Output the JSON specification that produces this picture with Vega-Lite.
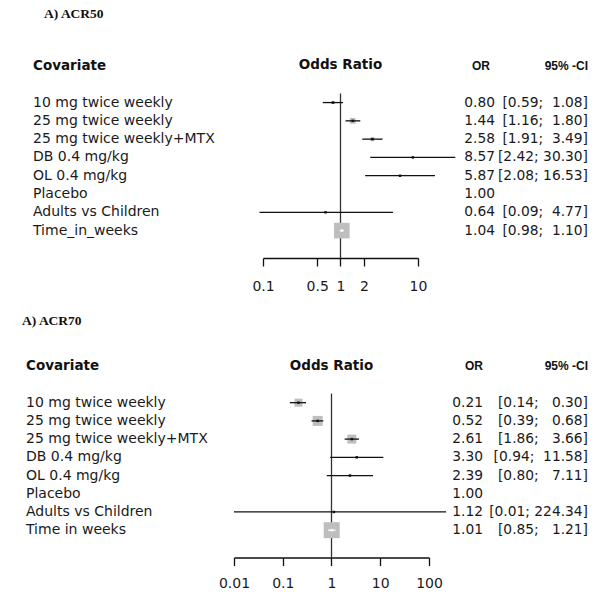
{
  "$schema": "https://vega.github.io/schema/vega-lite/v6.json",
  "background": "white",
  "padding": {"left": 22, "top": 2, "right": 5, "bottom": 2},
  "config": {
    "view": {"stroke": null},
    "axis": {"grid": false, "title": null, "domainColor": "#111", "tickColor": "#111", "domainWidth": 1.3, "tickWidth": 1.3, "labelFont": "DejaVu Sans", "labelFontSize": 14, "labelColor": "#1a1a1a", "labelFlush": false, "labelOverlap": false}
  },
  "datasets": {
    "acr50": [
      {"label": "10 mg twice weekly", "or": 0.80, "lo": 0.59, "hi": 1.08, "w": 3.5, "orText": "0.80", "ciText": "[0.59;\u00a0\u00a01.08]"},
      {"label": "25 mg twice weekly", "or": 1.44, "lo": 1.16, "hi": 1.80, "w": 12.7, "orText": "1.44", "ciText": "[1.16;\u00a0\u00a01.80]"},
      {"label": "25 mg twice weekly+MTX", "or": 2.58, "lo": 1.91, "hi": 3.49, "w": 6.3, "orText": "2.58", "ciText": "[1.91;\u00a0\u00a03.49]"},
      {"label": "DB 0.4 mg/kg", "or": 8.57, "lo": 2.42, "hi": 30.30, "w": 0.9, "orText": "8.57", "ciText": "[2.42;\u00a030.30]"},
      {"label": "OL 0.4 mg/kg", "or": 5.87, "lo": 2.08, "hi": 16.53, "w": 0.9, "orText": "5.87", "ciText": "[2.08;\u00a016.53]"},
      {"label": "Placebo", "or": 1.00, "lo": null, "hi": null, "w": null, "orText": "1.00", "ciText": ""},
      {"label": "Adults vs Children", "or": 0.64, "lo": 0.09, "hi": 4.77, "w": 0.9, "orText": "0.64", "ciText": "[0.09;\u00a0\u00a04.77]"},
      {"label": "Time_in_weeks", "or": 1.04, "lo": 0.98, "hi": 1.10, "w": 95, "orText": "1.04", "ciText": "[0.98;\u00a0\u00a01.10]"}
    ],
    "acr70": [
      {"label": "10 mg twice weekly", "or": 0.21, "lo": 0.14, "hi": 0.30, "w": 25, "orText": "0.21", "ciText": "[0.14;\u00a0\u00a0\u00a00.30]"},
      {"label": "25 mg twice weekly", "or": 0.52, "lo": 0.39, "hi": 0.68, "w": 39, "orText": "0.52", "ciText": "[0.39;\u00a0\u00a0\u00a00.68]"},
      {"label": "25 mg twice weekly+MTX", "or": 2.61, "lo": 1.86, "hi": 3.66, "w": 31.6, "orText": "2.61", "ciText": "[1.86;\u00a0\u00a0\u00a03.66]"},
      {"label": "DB 0.4 mg/kg", "or": 3.30, "lo": 0.94, "hi": 11.58, "w": 1.6, "orText": "3.30", "ciText": "[0.94;\u00a0\u00a011.58]"},
      {"label": "OL 0.4 mg/kg", "or": 2.39, "lo": 0.80, "hi": 7.11, "w": 1.6, "orText": "2.39", "ciText": "[0.80;\u00a0\u00a0\u00a07.11]"},
      {"label": "Placebo", "or": 1.00, "lo": null, "hi": null, "w": null, "orText": "1.00", "ciText": ""},
      {"label": "Adults vs Children", "or": 1.12, "lo": 0.01, "hi": 224.34, "w": 0.9, "orText": "1.12", "ciText": "[0.01;\u00a0224.34]"},
      {"label": "Time in weeks", "or": 1.01, "lo": 0.85, "hi": 1.21, "w": 100, "orText": "1.01", "ciText": "[0.85;\u00a0\u00a0\u00a01.21]"}
    ]
  },
  "vconcat": [
    {
      "bounds": "flush",
      "spacing": 0,
      "hconcat": [
        {
          "width": 241, "height": 256,
          "data": {"name": "acr50"},
          "layer": [
            {
              "data": {"values": [{"t": "A) ACR50"}]},
              "mark": {"type": "text", "align": "left", "baseline": "middle", "font": "Liberation Serif", "fontWeight": "bold", "fontSize": 13.5, "color": "#111", "dx": 22, "dy": 3},
              "encoding": {
                "x": {"value": 0},
                "y": {"datum": "ttl", "type": "nominal", "axis": null, "scale": {"type": "band", "paddingInner": 0, "paddingOuter": 0, "domain": ["ttl", "s1", "s2", "hdr", "s3", "10 mg twice weekly", "25 mg twice weekly", "25 mg twice weekly+MTX", "DB 0.4 mg/kg", "OL 0.4 mg/kg", "Placebo", "Adults vs Children", "Time_in_weeks", "gap"]}},
                "text": {"field": "t"}
              }
            },
            {
              "data": {"values": [{"t": "Covariate"}]},
              "mark": {"type": "text", "align": "left", "baseline": "middle", "font": "DejaVu Sans", "fontWeight": "bold", "fontSize": 13.5, "color": "#111", "dx": 11},
              "encoding": {"x": {"value": 0}, "y": {"datum": "hdr", "type": "nominal", "axis": null}, "text": {"field": "t"}}
            },
            {
              "mark": {"type": "text", "align": "left", "baseline": "middle", "font": "DejaVu Sans", "fontSize": 14, "color": "#1a1a1a", "dx": 11},
              "encoding": {"x": {"value": 0}, "y": {"field": "label", "type": "nominal", "axis": null}, "text": {"field": "label"}}
            }
          ]
        },
        {
          "width": 155, "height": 256,
          "data": {"name": "acr50"},
          "layer": [
            {
              "data": {"values": [{"v": 1}]},
              "mark": {"type": "rule", "color": "#333", "strokeWidth": 1.3},
              "encoding": {
                "x": {"field": "v", "type": "quantitative", "scale": {"type": "log", "domain": [0.1, 10], "nice": false}, "axis": {"values": [0.1, 0.5, 1, 2, 10], "format": "~g", "tickSize": 8, "labelPadding": 13}},
                "y": {"datum": "10 mg twice weekly", "type": "nominal", "bandPosition": 0, "axis": null, "scale": {"type": "band", "paddingInner": 0, "paddingOuter": 0, "domain": ["ttl", "s1", "s2", "hdr", "s3", "10 mg twice weekly", "25 mg twice weekly", "25 mg twice weekly+MTX", "DB 0.4 mg/kg", "OL 0.4 mg/kg", "Placebo", "Adults vs Children", "Time_in_weeks", "gap"]}},
                "y2": {"value": "height"}
              }
            },
            {
              "data": {"values": [{"t": "Odds Ratio"}]},
              "mark": {"type": "text", "align": "center", "baseline": "middle", "font": "DejaVu Sans", "fontWeight": "bold", "fontSize": 13.5, "color": "#111", "dy": -1},
              "encoding": {"y": {"datum": "hdr", "type": "nominal", "axis": null}, "text": {"field": "t"}}
            },
            {
              "transform": [{"filter": "datum.w != null"}],
              "mark": {"type": "point", "shape": "square", "filled": true, "color": "#bebebe", "opacity": 1},
              "encoding": {
                "x": {"field": "or", "type": "quantitative"},
                "y": {"field": "label", "type": "nominal", "axis": null},
                "size": {"field": "w", "type": "quantitative", "legend": null, "scale": {"type": "linear", "domain": [0, 100], "range": [0, 256]}}
              }
            },
            {
              "transform": [{"filter": "datum.lo != null"}],
              "mark": {"type": "rule", "strokeWidth": 1.3},
              "encoding": {
                "x": {"field": "lo", "type": "quantitative"},
                "x2": {"field": "hi"},
                "y": {"field": "label", "type": "nominal", "axis": null},
                "color": {"condition": {"test": "datum.w >= 90", "value": "white"}, "value": "#111"}
              }
            },
            {
              "transform": [{"filter": "datum.lo != null"}],
              "mark": {"type": "point", "shape": "square", "filled": true, "opacity": 1, "size": 6},
              "encoding": {
                "x": {"field": "or", "type": "quantitative"},
                "y": {"field": "label", "type": "nominal", "axis": null},
                "color": {"condition": {"test": "datum.w >= 90", "value": "white"}, "value": "#111"}
              }
            }
          ]
        },
        {
          "width": 77, "height": 256,
          "data": {"name": "acr50"},
          "layer": [
            {
              "data": {"values": [{"t": "OR"}]},
              "mark": {"type": "text", "align": "right", "baseline": "middle", "font": "Liberation Sans", "fontWeight": "bold", "fontSize": 12, "color": "#111", "dx": -5},
              "encoding": {
                "x": {"value": "width"},
                "y": {"datum": "hdr", "type": "nominal", "axis": null, "scale": {"type": "band", "paddingInner": 0, "paddingOuter": 0, "domain": ["ttl", "s1", "s2", "hdr", "s3", "10 mg twice weekly", "25 mg twice weekly", "25 mg twice weekly+MTX", "DB 0.4 mg/kg", "OL 0.4 mg/kg", "Placebo", "Adults vs Children", "Time_in_weeks", "gap"]}},
                "text": {"field": "t"}
              }
            },
            {
              "mark": {"type": "text", "align": "right", "baseline": "middle", "font": "DejaVu Sans", "fontSize": 13.8, "color": "#1a1a1a"},
              "encoding": {"x": {"value": "width"}, "y": {"field": "label", "type": "nominal", "axis": null}, "text": {"field": "orText"}}
            }
          ]
        },
        {
          "width": 93, "height": 256,
          "data": {"name": "acr50"},
          "layer": [
            {
              "data": {"values": [{"t": "95% -CI"}]},
              "mark": {"type": "text", "align": "right", "baseline": "middle", "font": "Liberation Sans", "fontWeight": "bold", "fontSize": 12, "color": "#111"},
              "encoding": {
                "x": {"value": "width"},
                "y": {"datum": "hdr", "type": "nominal", "axis": null, "scale": {"type": "band", "paddingInner": 0, "paddingOuter": 0, "domain": ["ttl", "s1", "s2", "hdr", "s3", "10 mg twice weekly", "25 mg twice weekly", "25 mg twice weekly+MTX", "DB 0.4 mg/kg", "OL 0.4 mg/kg", "Placebo", "Adults vs Children", "Time_in_weeks", "gap"]}},
                "text": {"field": "t"}
              }
            },
            {
              "mark": {"type": "text", "align": "right", "baseline": "middle", "font": "DejaVu Sans", "fontSize": 13.8, "color": "#1a1a1a"},
              "encoding": {"x": {"value": "width"}, "y": {"field": "label", "type": "nominal", "axis": null}, "text": {"field": "ciText"}}
            }
          ]
        }
      ]
    },
    {
      "bounds": "flush",
      "spacing": 0,
      "hconcat": [
        {
          "width": 212, "height": 255,
          "data": {"name": "acr70"},
          "layer": [
            {
              "data": {"values": [{"t": "A) ACR70"}]},
              "mark": {"type": "text", "align": "left", "baseline": "middle", "font": "Liberation Serif", "fontWeight": "bold", "fontSize": 13.5, "color": "#111", "dx": 0, "dy": 9},
              "encoding": {
                "x": {"value": 0},
                "y": {"datum": "ttl", "type": "nominal", "axis": null, "scale": {"type": "band", "paddingInner": 0, "paddingOuter": 0, "domain": ["ttl", "s1", "s2", "hdr", "s3", "10 mg twice weekly", "25 mg twice weekly", "25 mg twice weekly+MTX", "DB 0.4 mg/kg", "OL 0.4 mg/kg", "Placebo", "Adults vs Children", "Time in weeks", "gap"]}},
                "text": {"field": "t"}
              }
            },
            {
              "data": {"values": [{"t": "Covariate"}]},
              "mark": {"type": "text", "align": "left", "baseline": "middle", "font": "DejaVu Sans", "fontWeight": "bold", "fontSize": 13.5, "color": "#111", "dx": 4},
              "encoding": {"x": {"value": 0}, "y": {"datum": "hdr", "type": "nominal", "axis": null}, "text": {"field": "t"}}
            },
            {
              "mark": {"type": "text", "align": "left", "baseline": "middle", "font": "DejaVu Sans", "fontSize": 14, "color": "#1a1a1a", "dx": 4},
              "encoding": {"x": {"value": 0}, "y": {"field": "label", "type": "nominal", "axis": null}, "text": {"field": "label"}}
            }
          ]
        },
        {
          "width": 195, "height": 255,
          "data": {"name": "acr70"},
          "layer": [
            {
              "data": {"values": [{"v": 1}]},
              "mark": {"type": "rule", "color": "#333", "strokeWidth": 1.3},
              "encoding": {
                "x": {"field": "v", "type": "quantitative", "scale": {"type": "log", "domain": [0.01, 100], "nice": false}, "axis": {"values": [0.01, 0.1, 1, 10, 100], "format": "~g", "tickSize": 8, "labelPadding": 11}},
                "y": {"datum": "10 mg twice weekly", "type": "nominal", "bandPosition": 0, "axis": null, "scale": {"type": "band", "paddingInner": 0, "paddingOuter": 0, "domain": ["ttl", "s1", "s2", "hdr", "s3", "10 mg twice weekly", "25 mg twice weekly", "25 mg twice weekly+MTX", "DB 0.4 mg/kg", "OL 0.4 mg/kg", "Placebo", "Adults vs Children", "Time in weeks", "gap"]}},
                "y2": {"value": "height"}
              }
            },
            {
              "data": {"values": [{"t": "Odds Ratio"}]},
              "mark": {"type": "text", "align": "center", "baseline": "middle", "font": "DejaVu Sans", "fontWeight": "bold", "fontSize": 13.5, "color": "#111"},
              "encoding": {"y": {"datum": "hdr", "type": "nominal", "axis": null}, "text": {"field": "t"}}
            },
            {
              "transform": [{"filter": "datum.w != null"}],
              "mark": {"type": "point", "shape": "square", "filled": true, "color": "#bebebe", "opacity": 1},
              "encoding": {
                "x": {"field": "or", "type": "quantitative"},
                "y": {"field": "label", "type": "nominal", "axis": null},
                "size": {"field": "w", "type": "quantitative", "legend": null, "scale": {"type": "linear", "domain": [0, 100], "range": [0, 256]}}
              }
            },
            {
              "transform": [{"filter": "datum.lo != null"}],
              "mark": {"type": "rule", "strokeWidth": 1.3},
              "encoding": {
                "x": {"field": "lo", "type": "quantitative"},
                "x2": {"field": "hi"},
                "y": {"field": "label", "type": "nominal", "axis": null},
                "color": {"condition": {"test": "datum.w >= 90", "value": "white"}, "value": "#111"}
              }
            },
            {
              "transform": [{"filter": "datum.lo != null"}],
              "mark": {"type": "point", "shape": "square", "filled": true, "opacity": 1, "size": 6},
              "encoding": {
                "x": {"field": "or", "type": "quantitative"},
                "y": {"field": "label", "type": "nominal", "axis": null},
                "color": {"condition": {"test": "datum.w >= 90", "value": "white"}, "value": "#111"}
              }
            }
          ]
        },
        {
          "width": 54, "height": 255,
          "data": {"name": "acr70"},
          "layer": [
            {
              "data": {"values": [{"t": "OR"}]},
              "mark": {"type": "text", "align": "right", "baseline": "middle", "font": "Liberation Sans", "fontWeight": "bold", "fontSize": 12, "color": "#111", "dx": 0},
              "encoding": {
                "x": {"value": "width"},
                "y": {"datum": "hdr", "type": "nominal", "axis": null, "scale": {"type": "band", "paddingInner": 0, "paddingOuter": 0, "domain": ["ttl", "s1", "s2", "hdr", "s3", "10 mg twice weekly", "25 mg twice weekly", "25 mg twice weekly+MTX", "DB 0.4 mg/kg", "OL 0.4 mg/kg", "Placebo", "Adults vs Children", "Time in weeks", "gap"]}},
                "text": {"field": "t"}
              }
            },
            {
              "mark": {"type": "text", "align": "right", "baseline": "middle", "font": "DejaVu Sans", "fontSize": 13.8, "color": "#1a1a1a"},
              "encoding": {"x": {"value": "width"}, "y": {"field": "label", "type": "nominal", "axis": null}, "text": {"field": "orText"}}
            }
          ]
        },
        {
          "width": 105, "height": 255,
          "data": {"name": "acr70"},
          "layer": [
            {
              "data": {"values": [{"t": "95% -CI"}]},
              "mark": {"type": "text", "align": "right", "baseline": "middle", "font": "Liberation Sans", "fontWeight": "bold", "fontSize": 12, "color": "#111"},
              "encoding": {
                "x": {"value": "width"},
                "y": {"datum": "hdr", "type": "nominal", "axis": null, "scale": {"type": "band", "paddingInner": 0, "paddingOuter": 0, "domain": ["ttl", "s1", "s2", "hdr", "s3", "10 mg twice weekly", "25 mg twice weekly", "25 mg twice weekly+MTX", "DB 0.4 mg/kg", "OL 0.4 mg/kg", "Placebo", "Adults vs Children", "Time in weeks", "gap"]}},
                "text": {"field": "t"}
              }
            },
            {
              "mark": {"type": "text", "align": "right", "baseline": "middle", "font": "DejaVu Sans", "fontSize": 13.8, "color": "#1a1a1a"},
              "encoding": {"x": {"value": "width"}, "y": {"field": "label", "type": "nominal", "axis": null}, "text": {"field": "ciText"}}
            }
          ]
        }
      ]
    }
  ],
  "spacing": 9.5
}
